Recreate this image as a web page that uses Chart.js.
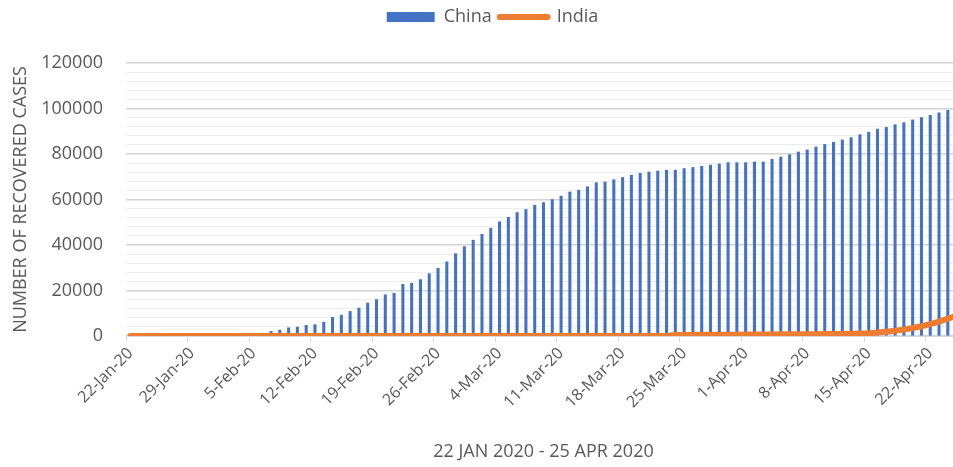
<!DOCTYPE html>
<html>
<head>
<meta charset="utf-8">
<script src="https://cdn.jsdelivr.net/npm/chart.js@4.4.1/dist/chart.umd.min.js"></script>
<style>
  html, body { margin: 0; padding: 0; background: #fff; }
</style>
</head>
<body>
<canvas id="chart" width="953" height="467"></canvas>
<script>
// 22 Jan 2020 .. 25 Apr 2020, one category per day
const monthNames = ['Jan', 'Feb', 'Mar', 'Apr'];
const dates = [];
for (let i = 0; i < 95; i++) {
  const d = new Date(Date.UTC(2020, 0, 22 + i));
  dates.push(d.getUTCDate() + '-' + monthNames[d.getUTCMonth()] + '-20');
}

const chinaRecovered = [
  30, 30, 40, 40, 50, 60, 100, 120, 140, 210, 280, 460, 610, 840, 1100, 1250,
  2000, 2600, 3600, 3900, 4700, 5000, 6100, 8200, 9200, 10800, 12300, 14500, 16000, 18100, 18800, 22700,
  23200, 24800, 27400, 29800, 32600, 36200, 39300, 42100, 44700, 47400, 50200, 52200, 54300, 55600, 57500, 58700,
  60000, 61500, 63300, 64100, 65600, 67400, 67700, 68700, 69700, 70700, 71500, 72100, 72500, 72900, 72900, 73600,
  74100, 74600, 75100, 75600, 76200, 76200, 76200, 76500, 76500, 77700, 78700, 79700, 80900, 81800, 83100, 84200,
  85200, 86200, 87200, 88500, 89600, 90900, 91700, 92900, 93800, 95000, 96000, 97000, 98100, 99200, 100300
];

const indiaRecovered = [
  0, 0, 0, 0, 0, 0, 0, 0, 0, 0, 0, 0, 0, 0, 0, 0, 0, 0, 0, 0, 0, 0, 0, 0,
  3, 3, 3, 3, 3, 3, 3, 3, 3, 3, 3, 3, 3, 3, 3, 3, 3,
  3, 3, 3, 3, 3, 3, 4, 4, 4, 4, 10, 10,
  13, 14, 15, 20, 20, 23, 23, 27, 40,
  450, 480, 500, 520, 540, 560, 580, 600, 620,
  650, 680, 700, 720, 750, 780, 800, 820, 840,
  850, 900, 950, 1050, 1200, 1500, 1900, 2300, 2800, 3500, 4300, 5200, 6300, 7600, 9000
];

const yLabels = [0, 20000, 40000, 60000, 80000, 100000, 120000];
const labelEvery = 7;

const textColor = '#595959';
const font = 'Open Sans';

const layoutTweak = {
  id: 'layoutTweak',
  beforeInit(chart) {
    // more room under the legend
    const fit = chart.legend.fit;
    chart.legend.fit = function () {
      fit.call(this);
      this.height = 63;
    };
  },
  afterLayout(chart) {
    // the original plot runs past the right edge of the picture
    const x = chart.scales.x;
    const extra = 8;
    x.right += extra;
    x.width += extra;
    chart.chartArea.right += extra;
    chart.chartArea.width += extra;
    x.configure();
    // legend is a bit right of the canvas centre
    chart.legend.left += 16;
    chart.legend.right += 16;
  }
};

new Chart(document.getElementById('chart'), {
  type: 'bar',
  data: {
    labels: dates,
    datasets: [
      {
        type: 'bar',
        label: 'China',
        data: chinaRecovered,
        backgroundColor: '#4472C4',
        barThickness: 2.4,
        order: 1
      },
      {
        type: 'line',
        label: 'India',
        data: indiaRecovered,
        borderColor: '#ED7D31',
        backgroundColor: '#ED7D31',
        borderWidth: 6,
        borderCapStyle: 'round',
        borderJoinStyle: 'round',
        pointRadius: 0,
        tension: 0,
        order: 0
      }
    ]
  },
  plugins: [layoutTweak],
  options: {
    responsive: false,
    animation: false,
    devicePixelRatio: 1,
    layout: { autoPadding: false, padding: 0 },
    plugins: {
      tooltip: { enabled: false },
      legend: {
        position: 'top',
        labels: {
          usePointStyle: true,
          pointStyleWidth: 48,
          boxHeight: 10,
          padding: 8,
          color: textColor,
          font: { family: font, size: 18 },
          generateLabels: (chart) => chart.data.datasets.map((ds, i) => ({
            text: ds.label,
            datasetIndex: i,
            fillStyle: i === 0 ? '#4472C4' : '#ED7D31',
            strokeStyle: '#ED7D31',
            lineWidth: i === 0 ? 0 : 6,
            lineCap: 'round',
            pointStyle: i === 0 ? 'rect' : 'line',
            fontColor: textColor,
            hidden: false
          }))
        }
      }
    },
    scales: {
      x: {
        offset: true,
        grid: {
          offset: true,
          drawOnChartArea: false,
          drawTicks: true,
          tickLength: 6,
          color: (ctx) => ctx.index % labelEvery === 0 ? '#d9d9d9' : 'rgba(0,0,0,0)'
        },
        border: { display: true, color: '#d9d9d9' },
        ticks: {
          autoSkip: false,
          minRotation: 45,
          maxRotation: 45,
          padding: 2,
          color: textColor,
          font: { family: font, size: 16 },
          callback: (val, i) => i % labelEvery === 0 ? dates[i] : ''
        },
        title: {
          display: true,
          text: '22 JAN 2020 - 25 APR 2020',
          color: textColor,
          font: { family: font, size: 18 },
          padding: { top: 4, bottom: 4 }
        },
        afterFit: (scale) => {
          scale.height = 131;
          scale.paddingLeft = 0;
          scale.paddingRight = 0;
        }
      },
      y: {
        min: 0,
        max: 120000,
        border: { display: false },
        grid: {
          drawTicks: false,
          color: (ctx) => yLabels.includes(ctx.tick.value) ? '#d4d4d4' : '#ececec',
          lineWidth: (ctx) => yLabels.includes(ctx.tick.value) ? 1.5 : 1
        },
        ticks: {
          stepSize: 4000,
          autoSkip: false,
          padding: 23,
          color: textColor,
          font: { family: font, size: 18 },
          callback: (val) => yLabels.includes(val) ? String(val) : ''
        },
        title: {
          display: true,
          text: 'NUMBER OF RECOVERED CASES',
          color: textColor,
          font: { family: font, size: 18 },
          padding: { top: 10, bottom: 0 }
        },
        afterFit: (scale) => { scale.width = 126; }
      }
    }
  }
});
</script>
</body>
</html>
